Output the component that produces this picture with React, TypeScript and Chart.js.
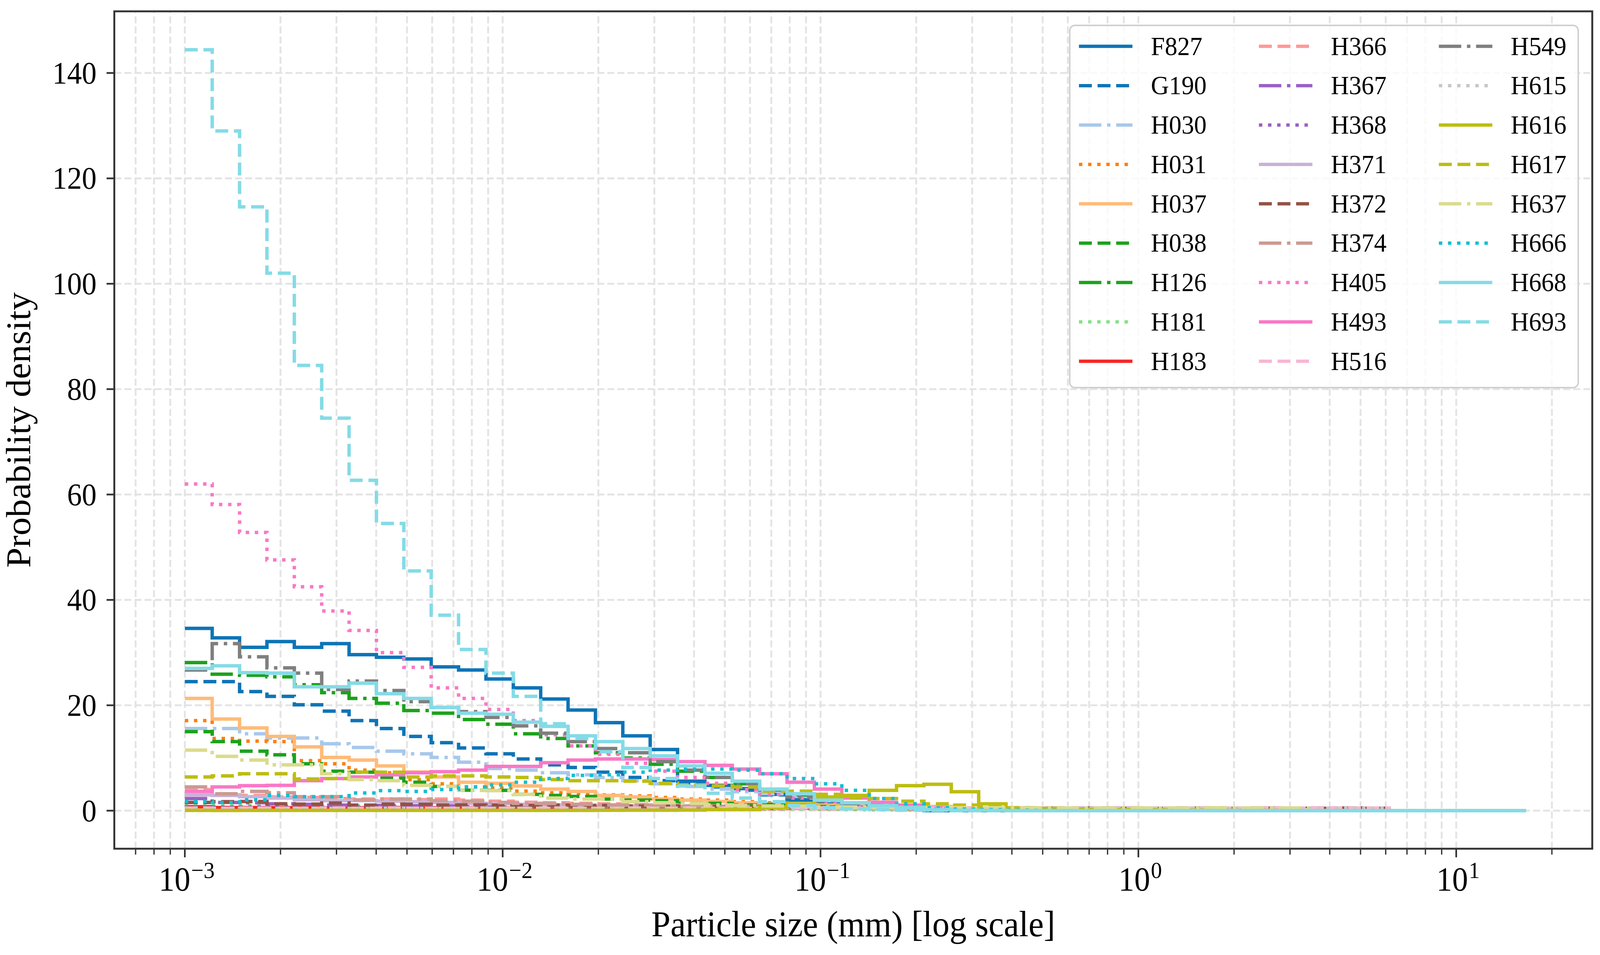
import { useEffect, useRef } from 'react';
import { Chart, registerables } from 'chart.js';

Chart.register(...registerables);

// Log-spaced histogram bins, 1e-3 mm up to about 16.6 mm
const BIN_COUNT = 49;
const LOG_FIRST_EDGE = -3;
const LOG_LAST_EDGE = 1.22;
const BIN_EDGES = Array.from({ length: BIN_COUNT + 1 }, (_, i) =>
  Math.pow(10, LOG_FIRST_EDGE + ((LOG_LAST_EDGE - LOG_FIRST_EDGE) * i) / BIN_COUNT)
);

const X_MIN = Math.pow(10, -3.211);
const X_MAX = Math.pow(10, 1.428);
const Y_MIN = -7.22;
const Y_MAX = 151.7;

const Y_TICKS = [0, 20, 40, 60, 80, 100, 120, 140];
const X_MAJOR_EXPONENTS = [-3, -2, -1, 0, 1];
const X_MINOR_MULTIPLIERS = [2, 3, 4, 5, 6, 7, 8, 9];
const X_DECADES = [-4, -3, -2, -1, 0, 1];

const X_TITLE = 'Particle size (mm) [log scale]';
const Y_TITLE = 'Probability density';

// probability density per bin
const F827 = [
  34.6, 32.8, 31.0, 32.1, 31.0, 31.7, 29.6, 29.1, 28.8, 27.3,
  26.7, 25.0, 23.3, 21.2, 19.1, 16.7, 14.2, 11.6, 5.6, 4.8,
  4.2, 3.1, 2.0, 1.3, 0.7, 0.5, 0.3, 0, 0, 0,
  0, 0, 0, 0, 0, 0, 0, 0, 0, 0,
  0, 0, 0, 0, 0, 0, 0, 0, 0,
];
const G190 = [
  24.5, 24.5, 22.6, 21.7, 20.1, 18.9, 17.1, 15.6, 14.1, 12.9,
  11.9, 10.8, 9.8, 8.7, 8.2, 7.3, 6.3, 5.7, 5.0, 4.5,
  3.9, 3.0, 2.3, 1.6, 1.1, 0.7, 0.4, 0.2, 0.1, 0.05,
  0, 0, 0, 0, 0, 0, 0, 0, 0, 0,
  0, 0, 0, 0, 0, 0, 0, 0, 0,
];
const H030 = [
  15.6, 15.6, 14.6, 13.8, 13.8, 12.7, 12.0, 11.3, 10.8, 10.1,
  9.2, 8.0, 7.7, 7.2, 6.8, 6.3, 5.7, 5.1, 4.6, 4.1,
  3.6, 3.2, 2.7, 1.9, 1.4, 1.0, 0.7, 0.5, 0.3, 0.2,
  0.1, 0.05, 0, 0, 0, 0, 0, 0, 0, 0,
  0, 0, 0, 0, 0, 0, 0, 0, 0,
];
const H031 = [
  17.1, 13.7, 13.2, 13.1, 9.5, 8.9, 7.7, 7.2, 5.9, 5.1,
  4.5, 4.3, 3.7, 3.4, 3.3, 3.0, 2.8, 2.5, 2.2, 2.0,
  1.7, 1.5, 1.2, 0.9, 0.7, 0.5, 0.35, 0.25, 0.15, 0.1,
  0, 0, 0, 0, 0, 0, 0, 0, 0, 0,
  0, 0, 0, 0, 0, 0, 0, 0, 0,
];
const H037 = [
  21.3, 17.4, 15.7, 14.1, 12.1, 10.1, 9.6, 8.5, 7.35, 6.4,
  5.4, 5.2, 4.7, 4.1, 3.65, 2.9, 2.6, 2.2, 2.0, 1.75,
  1.5, 1.3, 1.1, 1.05, 1.0, 0.9, 0.85, 0.8, 0.4, 0.2,
  0.1, 0, 0, 0, 0, 0, 0, 0, 0, 0,
  0, 0, 0, 0, 0, 0, 0, 0, 0,
];
const H038 = [
  15.0, 13.1, 11.3, 10.6, 8.9, 7.5, 7.3, 6.2, 5.4, 4.6,
  3.9, 3.85, 3.1, 2.9, 2.7, 2.2, 2.0, 1.9, 1.4, 1.4,
  1.1, 1.2, 1.0, 0.8, 0.6, 0.45, 0.35, 0.25, 0.15, 0.1,
  0, 0, 0, 0, 0, 0, 0, 0, 0, 0,
  0, 0, 0, 0, 0, 0, 0, 0, 0,
];
const H126 = [
  28.1, 25.9, 25.7, 25.4, 23.9, 22.4, 21.3, 20.4, 19.0, 18.5,
  17.3, 16.4, 14.6, 13.7, 12.3, 11.0, 10.0, 8.8, 7.5, 6.3,
  5.1, 3.9, 3.0, 2.2, 1.5, 1.0, 0.6, 0.35, 0.2, 0.1,
  0, 0, 0, 0, 0, 0, 0, 0, 0, 0,
  0, 0, 0, 0, 0, 0, 0, 0, 0,
];
const H181 = [
  1.1, 1.05, 1.0, 1.0, 1.05, 0.95, 0.95, 0.9, 0.9, 0.85,
  0.8, 0.8, 0.75, 0.7, 0.65, 0.6, 0.55, 0.5, 0.45, 0.4,
  0.35, 0.3, 0.3, 0.25, 0.2, 0.15, 0.1, 0.1, 0.05, 0.05,
  0, 0, 0, 0, 0, 0, 0, 0, 0, 0,
  0, 0, 0, 0, 0, 0, 0, 0, 0,
];
const H183 = [
  0.75, 0.6, 0.6, 0.55, 0.6, 0.55, 0.55, 0.6, 0.55, 0.55,
  0.55, 0.5, 0.55, 0.5, 0.5, 0.5, 0.45, 0.5, 0.45, 0.45,
  0.45, 0.4, 0.45, 0.4, 0.4, 0.4, 0.35, 0.4, 0.35, 0.35,
  0.35, 0.35, 0.3, 0.35, 0.3, 0.3, 0.35, 0.3, 0.3, 0.35,
  0.3, 0.35, 0.4, 0.45, 0, 0, 0, 0, 0,
];
const H366 = [
  4.0, 3.0, 2.9, 2.6, 2.5, 2.3, 2.2, 2.2, 2.1, 2.2,
  2.0, 1.8, 1.6, 1.5, 1.4, 1.3, 1.2, 1.1, 1.0, 0.9,
  0.8, 0.7, 0.6, 0.5, 0.45, 0.4, 0.35, 0.3, 0.25, 0.2,
  0.2, 0.15, 0.15, 0.1, 0.1, 0.1, 0.05, 0.05, 0.05, 0.05,
  0, 0, 0, 0, 0, 0, 0, 0, 0,
];
const H367 = [
  2.3, 1.55, 1.5, 1.3, 1.2, 1.05, 1.0, 1.0, 0.95, 0.9,
  0.9, 0.85, 0.8, 0.8, 0.75, 0.75, 0.7, 0.7, 0.65, 0.65,
  0.6, 0.6, 0.55, 0.55, 0.5, 0.5, 0.5, 0.45, 0.45, 0.45,
  0.4, 0.4, 0.4, 0.4, 0.35, 0.35, 0.35, 0.35, 0.35, 0.4,
  0.4, 0.4, 0.45, 0.45, 0, 0, 0, 0, 0,
];
const H368 = [
  0.75, 0.7, 0.7, 0.7, 0.65, 0.7, 0.65, 0.65, 0.6, 0.65,
  0.6, 0.6, 0.55, 0.6, 0.55, 0.55, 0.5, 0.55, 0.5, 0.5,
  0.5, 0.45, 0.5, 0.45, 0.45, 0.4, 0.45, 0.4, 0.4, 0.4,
  0.35, 0.4, 0.35, 0.35, 0.35, 0.3, 0.35, 0.3, 0.3, 0.35,
  0.3, 0.35, 0.4, 0.4, 0, 0, 0, 0, 0,
];
const H371 = [
  3.0, 2.9, 2.65, 2.4, 2.05, 1.9, 1.9, 1.8, 1.7, 1.55,
  1.4, 1.3, 1.2, 1.1, 1.0, 0.95, 0.9, 0.85, 0.8, 0.75,
  0.7, 0.65, 0.6, 0.55, 0.5, 0.45, 0.4, 0.35, 0.3, 0.3,
  0.25, 0.2, 0.2, 0.15, 0.1, 0.1, 0.05, 0.05, 0, 0,
  0, 0, 0, 0, 0, 0, 0, 0, 0,
];
const H372 = [
  1.55, 1.7, 1.75, 1.3, 1.25, 1.45, 1.05, 1.25, 1.2, 1.05,
  1.1, 1.05, 1.0, 1.05, 0.95, 1.0, 0.9, 0.9, 0.85, 0.8,
  0.8, 0.75, 0.7, 0.7, 0.65, 0.6, 0.6, 0.55, 0.5, 0.5,
  0.5, 0.5, 0.45, 0.5, 0.45, 0.45, 0.5, 0.45, 0.45, 0.5,
  0.45, 0.45, 0.5, 0.45, 0, 0, 0, 0, 0,
];
const H374 = [
  4.5, 3.2, 3.65, 3.4, 2.65, 2.65, 2.05, 2.2, 2.2, 1.9,
  1.8, 1.55, 1.4, 1.35, 1.2, 1.1, 1.05, 0.95, 0.9, 0.75,
  0.7, 0.65, 0.6, 0.5, 0.45, 0.4, 0.35, 0.3, 0.25, 0.2,
  0.15, 0.1, 0.1, 0.05, 0, 0, 0, 0, 0, 0,
  0, 0, 0, 0, 0, 0, 0, 0, 0,
];
const H405 = [
  62.0, 58.1, 52.8, 47.6, 42.5, 37.9, 34.2, 30.0, 27.2, 23.3,
  21.3, 19.2, 17.1, 14.4, 12.3, 10.7, 9.0, 7.5, 6.3, 5.2,
  4.0, 3.1, 2.4, 1.7, 1.2, 0.9, 0.6, 0.4, 0.25, 0.15,
  0.1, 0.05, 0, 0, 0, 0, 0, 0, 0, 0,
  0, 0, 0, 0, 0, 0, 0, 0, 0,
];
const H493 = [
  3.65, 4.5, 4.75, 4.8, 5.7, 6.1, 6.4, 6.8, 7.2, 7.4,
  7.7, 8.4, 8.4, 9.1, 9.6, 9.8, 9.8, 9.7, 9.3, 8.6,
  7.9, 7.0, 5.4, 4.1, 2.4, 1.6, 1.05, 0.55, 0.35, 0.25,
  0.15, 0.1, 0.05, 0, 0, 0, 0, 0, 0, 0,
  0, 0, 0, 0, 0, 0, 0, 0, 0,
];
const H516 = [
  0.5, 0.45, 0.5, 0.45, 0.45, 0.5, 0.45, 0.5, 0.45, 0.45,
  0.5, 0.45, 0.45, 0.5, 0.45, 0.45, 0.5, 0.45, 0.5, 0.45,
  0.45, 0.5, 0.5, 0.45, 0.5, 0.55, 0.5, 0.5, 0.55, 0.5,
  0.55, 0.5, 0.55, 0.5, 0.55, 0.5, 0.5, 0.55, 0.5, 0.55,
  0.5, 0.55, 0.5, 0.5, 0, 0, 0, 0, 0,
];
const H549 = [
  26.7, 31.7, 29.2, 27.1, 26.1, 23.0, 24.6, 22.8, 20.7, 19.6,
  18.8, 17.7, 16.1, 14.7, 13.1, 11.8, 11.0, 9.3, 7.7, 6.3,
  5.1, 3.9, 2.6, 1.8, 1.2, 0.8, 0.5, 0.3, 0.2, 0.1,
  0, 0, 0, 0, 0, 0, 0, 0, 0, 0,
  0, 0, 0, 0, 0, 0, 0, 0, 0,
];
const H615 = [
  0.45, 0.4, 0.45, 0.4, 0.45, 0.4, 0.4, 0.45, 0.4, 0.4,
  0.4, 0.45, 0.4, 0.4, 0.4, 0.45, 0.4, 0.4, 0.45, 0.4,
  0.4, 0.45, 0.4, 0.45, 0.45, 0.4, 0.45, 0.45, 0.4, 0.45,
  0.45, 0.4, 0.45, 0.45, 0.4, 0.45, 0.45, 0.4, 0.45, 0.45,
  0.45, 0.45, 0.5, 0.45, 0, 0, 0, 0, 0,
];
const H616 = [
  0.05, 0.04, 0.05, 0.05, 0.06, 0.05, 0.05, 0.06, 0.05, 0.05,
  0.05, 0.06, 0.05, 0.06, 0.06, 0.07, 0.1, 0.1, 0.12, 0.2,
  0.2, 0.6, 1.3, 2.6, 2.9, 3.85, 4.75, 5.0, 3.6, 1.3,
  0.45, 0.4, 0.3, 0.25, 0.2, 0.15, 0.1, 0.1, 0.05, 0.05,
  0, 0, 0, 0, 0, 0, 0, 0, 0,
];
const H617 = [
  6.4, 6.6, 7.0, 7.0, 6.0, 6.1, 7.3, 7.3, 6.4, 6.6,
  6.6, 6.4, 6.3, 5.9, 5.7, 5.7, 5.6, 5.2, 4.9, 4.7,
  4.5, 3.7, 3.7, 3.1, 2.5, 2.3, 1.8, 1.3, 1.05, 0.7,
  0.55, 0.4, 0.3, 0.2, 0.15, 0.1, 0.05, 0, 0, 0,
  0, 0, 0, 0, 0, 0, 0, 0, 0,
];
const H637 = [
  11.5, 10.3, 9.6, 8.7, 8.7, 7.0, 5.9, 5.7, 4.8, 4.6,
  3.9, 3.8, 3.1, 2.4, 2.2, 2.2, 1.7, 1.5, 1.4, 1.1,
  1.0, 0.9, 0.85, 0.75, 0.7, 0.65, 0.6, 0.6, 0.55, 0.55,
  0.5, 0.55, 0.5, 0.5, 0.55, 0.5, 0.5, 0.55, 0.5, 0.5,
  0.5, 0, 0, 0, 0, 0, 0, 0, 0,
];
const H666 = [
  1.75, 1.55, 2.05, 2.9, 2.65, 2.65, 3.35, 3.8, 3.65, 4.0,
  4.5, 4.9, 5.4, 6.1, 6.7, 6.8, 7.3, 7.7, 7.9, 7.9,
  7.7, 7.0, 6.1, 5.1, 3.85, 2.3, 1.3, 0.55, 0.3, 0.2,
  0.1, 0.05, 0, 0, 0, 0, 0, 0, 0, 0,
  0, 0, 0, 0, 0, 0, 0, 0, 0,
];
const H668 = [
  27.0, 27.5, 26.2, 26.1, 23.5, 23.5, 24.2, 22.2, 21.3, 19.6,
  18.5, 18.3, 16.8, 16.0, 14.2, 13.1, 11.8, 10.4, 8.5, 7.1,
  5.6, 4.1, 3.2, 2.0, 1.5, 0.95, 0.55, 0.2, 0.08, 0.05,
  0, 0, 0, 0, 0, 0, 0, 0, 0, 0,
  0, 0, 0, 0, 0, 0, 0, 0, 0,
];
const H693 = [
  144.4, 129.0, 114.6, 102.0, 84.5, 74.5, 62.7, 54.5, 45.5, 37.1,
  30.6, 26.1, 21.7, 16.5, 13.7, 11.2, 8.2, 6.1, 4.7, 3.3,
  2.4, 1.7, 1.0, 0.6, 0.35, 0.2, 0.1, 0.05, 0, 0,
  0, 0, 0, 0, 0, 0, 0, 0, 0, 0,
  0, 0, 0, 0, 0, 0, 0, 0, 0,
];

type LineStyle = 'solid' | 'dashed' | 'dashdot' | 'dotted';

const SERIES: { label: string; values: number[]; color: string; style: LineStyle }[] = [
  { label: 'F827', values: F827, color: '#0e74b6', style: 'solid' },
  { label: 'G190', values: G190, color: '#0e74b6', style: 'dashed' },
  { label: 'H030', values: H030, color: '#a8c8ea', style: 'dashdot' },
  { label: 'H031', values: H031, color: '#ff7f0e', style: 'dotted' },
  { label: 'H037', values: H037, color: '#ffbb78', style: 'solid' },
  { label: 'H038', values: H038, color: '#1ca21c', style: 'dashed' },
  { label: 'H126', values: H126, color: '#1ca21c', style: 'dashdot' },
  { label: 'H181', values: H181, color: '#88e088', style: 'dotted' },
  { label: 'H183', values: H183, color: '#f52727', style: 'solid' },
  { label: 'H366', values: H366, color: '#ff9896', style: 'dashed' },
  { label: 'H367', values: H367, color: '#9a60c4', style: 'dashdot' },
  { label: 'H368', values: H368, color: '#9a60c4', style: 'dotted' },
  { label: 'H371', values: H371, color: '#c8b2d8', style: 'solid' },
  { label: 'H372', values: H372, color: '#925246', style: 'dashed' },
  { label: 'H374', values: H374, color: '#cc9a92', style: 'dashdot' },
  { label: 'H405', values: H405, color: '#fa78c6', style: 'dotted' },
  { label: 'H493', values: H493, color: '#fa78c6', style: 'solid' },
  { label: 'H516', values: H516, color: '#f8b6d3', style: 'dashed' },
  { label: 'H549', values: H549, color: '#7f7f7f', style: 'dashdot' },
  { label: 'H615', values: H615, color: '#c7c7c7', style: 'dotted' },
  { label: 'H616', values: H616, color: '#bdbd12', style: 'solid' },
  { label: 'H617', values: H617, color: '#bdbd12', style: 'dashed' },
  { label: 'H637', values: H637, color: '#dbdb8d', style: 'dashdot' },
  { label: 'H666', values: H666, color: '#12bfd0', style: 'dotted' },
  { label: 'H668', values: H668, color: '#84dbe6', style: 'solid' },
  { label: 'H693', values: H693, color: '#84dbe6', style: 'dashed' },
];

// geometry is given in reference pixels (4339 x 2444) and stretched to fill the viewport
const REF_W = 4339;
const REF_H = 2444;
let SX = 1;
let SY = 1;
const ux = (v: number) => v * SX;
const uy = (v: number) => v * SY;
const us = (v: number) => v * (SX + SY) / 2;

const LINE_WIDTH = 9;
const DASHES: Record<LineStyle, number[]> = {
  solid: [],
  dashed: [34, 15],
  dashdot: [59, 15, 9, 15],
  dotted: [9, 15],
};
const dash = (style: LineStyle) => DASHES[style].map(us);

const FONT = "'Liberation Serif', 'DejaVu Serif', serif";
const GRID_COLOR = '#e4e4e4';
const SPINE_COLOR = '#333333';
const LEGEND_ROWS = 9;

// text in reference units, drawn at canvas point (px, py)
function drawText(
  ctx: CanvasRenderingContext2D, str: string, px: number, py: number,
  size: number, align: CanvasTextAlign, rotated = false
) {
  ctx.save();
  ctx.translate(px, py);
  ctx.scale(SX, SY);
  if (rotated) ctx.rotate(-Math.PI / 2);
  ctx.font = `${size}px ${FONT}`;
  ctx.textAlign = align;
  ctx.textBaseline = 'alphabetic';
  ctx.fillStyle = '#000';
  ctx.fillText(str, 0, 0);
  ctx.restore();
}

function textWidth(ctx: CanvasRenderingContext2D, str: string, size: number) {
  ctx.save();
  ctx.font = `${size}px ${FONT}`;
  const w = ctx.measureText(str).width;
  ctx.restore();
  return w;
}

const mplAxes = {
  id: 'mplAxes',
  beforeDatasetsDraw(chart: Chart) {
    const { ctx, chartArea: a } = chart;
    const x = chart.scales.x;
    const y = chart.scales.y;
    ctx.save();
    ctx.beginPath();
    ctx.rect(a.left, a.top, a.right - a.left, a.bottom - a.top);
    ctx.clip();
    ctx.strokeStyle = GRID_COLOR;
    ctx.lineWidth = us(5);
    ctx.setLineDash([us(18.5), us(8)]);
    for (const d of X_DECADES) {
      for (const k of [1, ...X_MINOR_MULTIPLIERS]) {
        const v = k * Math.pow(10, d);
        if (v < X_MIN || v > X_MAX) continue;
        const px = x.getPixelForValue(v);
        ctx.beginPath();
        ctx.moveTo(px, a.bottom);
        ctx.lineTo(px, a.top);
        ctx.stroke();
      }
    }
    for (const t of Y_TICKS) {
      const py = y.getPixelForValue(t);
      ctx.beginPath();
      ctx.moveTo(a.left, py);
      ctx.lineTo(a.right, py);
      ctx.stroke();
    }
    ctx.restore();
  },
  afterDraw(chart: Chart) {
    const { ctx, chartArea: a } = chart;
    const x = chart.scales.x;
    const y = chart.scales.y;
    ctx.save();
    ctx.setLineDash([]);

    // spines
    ctx.strokeStyle = SPINE_COLOR;
    ctx.lineWidth = us(5);
    ctx.strokeRect(a.left, a.top, a.right - a.left, a.bottom - a.top);

    // x ticks
    for (const d of X_DECADES) {
      for (const k of X_MINOR_MULTIPLIERS) {
        const v = k * Math.pow(10, d);
        if (v < X_MIN || v > X_MAX) continue;
        const px = x.getPixelForValue(v);
        ctx.lineWidth = ux(3.5);
        ctx.beginPath();
        ctx.moveTo(px, a.bottom);
        ctx.lineTo(px, a.bottom + uy(15));
        ctx.stroke();
      }
    }
    for (const e of X_MAJOR_EXPONENTS) {
      const px = x.getPixelForValue(Math.pow(10, e));
      ctx.lineWidth = ux(4.5);
      ctx.beginPath();
      ctx.moveTo(px, a.bottom);
      ctx.lineTo(px, a.bottom + uy(22));
      ctx.stroke();

      const exp = e < 0 ? '\u2212' + String(-e) : String(e);
      const wBase = textWidth(ctx, '10', 86);
      const wExp = textWidth(ctx, exp, 60);
      const start = px + ux(5 - (wBase + wExp + 2) / 2);
      drawText(ctx, '10', start, uy(2279), 86, 'left');
      drawText(ctx, exp, start + ux(wBase + 2), uy(2247), 60, 'left');
    }

    // y ticks
    for (const t of Y_TICKS) {
      const py = y.getPixelForValue(t);
      ctx.lineWidth = uy(4.5);
      ctx.beginPath();
      ctx.moveTo(a.left, py);
      ctx.lineTo(a.left - ux(21), py);
      ctx.stroke();
      drawText(ctx, String(t), a.left - ux(48), py + uy(27), 80, 'right');
    }

    // axis titles
    drawText(ctx, X_TITLE, (a.left + a.right) / 2, uy(2396), 93, 'center');
    drawText(ctx, Y_TITLE, ux(82), (a.top + a.bottom) / 2, 93, 'center', true);

    // legend, 3 columns of 9
    ctx.beginPath();
    ctx.roundRect(ux(2901), uy(65), ux(4280 - 2901), uy(992 - 65), us(14));
    ctx.fillStyle = 'rgba(255,255,255,0.8)';
    ctx.fill();
    ctx.strokeStyle = '#d0d0d0';
    ctx.lineWidth = us(4);
    ctx.stroke();
    SERIES.forEach((s, i) => {
      const col = Math.floor(i / LEGEND_ROWS);
      const row = i % LEGEND_ROWS;
      const hx = 2926 + col * 488;
      const hy = 118.5 + row * 100.75;
      ctx.strokeStyle = s.color;
      ctx.lineWidth = us(LINE_WIDTH);
      ctx.lineCap = 'butt';
      ctx.setLineDash(dash(s.style));
      ctx.beginPath();
      ctx.moveTo(ux(hx), uy(hy));
      ctx.lineTo(ux(hx + 145), uy(hy));
      ctx.stroke();
      ctx.setLineDash([]);
      drawText(ctx, s.label, ux(hx + 195), uy(hy + 22), 68, 'left');
    });
    ctx.restore();
  },
};

export default function App() {
  const boxRef = useRef<HTMLDivElement>(null);
  const chartRef = useRef<HTMLCanvasElement>(null);
  const chartInstance = useRef<Chart | null>(null);

  useEffect(() => {
    document.documentElement.style.margin = '0';
    document.body.style.margin = '0';
    document.body.style.overflow = 'hidden';
    if (!chartRef.current || !boxRef.current) return;
    if (chartInstance.current) chartInstance.current.destroy();

    const vw = window.innerWidth;
    const vh = window.innerHeight;
    SX = vw / REF_W;
    SY = vh / REF_H;
    boxRef.current.style.width = `${vw}px`;
    boxRef.current.style.height = `${vh}px`;

    const datasets = SERIES.map((s, i) => {
      const points = s.values.map((v, j) => ({ x: BIN_EDGES[j], y: v }));
      points.push({ x: BIN_EDGES[BIN_COUNT], y: s.values[BIN_COUNT - 1] });
      return {
        label: s.label,
        data: points,
        borderColor: s.color,
        backgroundColor: s.color,
        borderWidth: us(LINE_WIDTH),
        borderDash: dash(s.style),
        borderCapStyle: 'butt' as const,
        borderJoinStyle: 'miter' as const,
        stepped: 'before' as const, // hold each bin value until the next edge
        fill: false,
        pointRadius: 0,
        tension: 0,
        order: -i, // later series on top, like matplotlib
      };
    });

    chartInstance.current = new Chart(chartRef.current, {
      type: 'line',
      data: { datasets },
      options: {
        animation: false,
        responsive: true,
        maintainAspectRatio: false,
        events: [],
        layout: { padding: { left: ux(310), top: uy(29), right: ux(21), bottom: uy(272) } },
        plugins: {
          legend: { display: false },
          tooltip: { enabled: false },
        },
        scales: {
          x: { type: 'logarithmic', min: X_MIN, max: X_MAX, display: false },
          y: { type: 'linear', min: Y_MIN, max: Y_MAX, display: false },
        },
      },
      plugins: [mplAxes],
    });

    return () => {
      if (chartInstance.current) {
        chartInstance.current.destroy();
        chartInstance.current = null;
      }
    };
  }, []);

  return (
    <div ref={boxRef} style={{ position: 'relative', width: REF_W, height: REF_H, background: '#fff' }}>
      <canvas ref={chartRef} />
    </div>
  );
}
